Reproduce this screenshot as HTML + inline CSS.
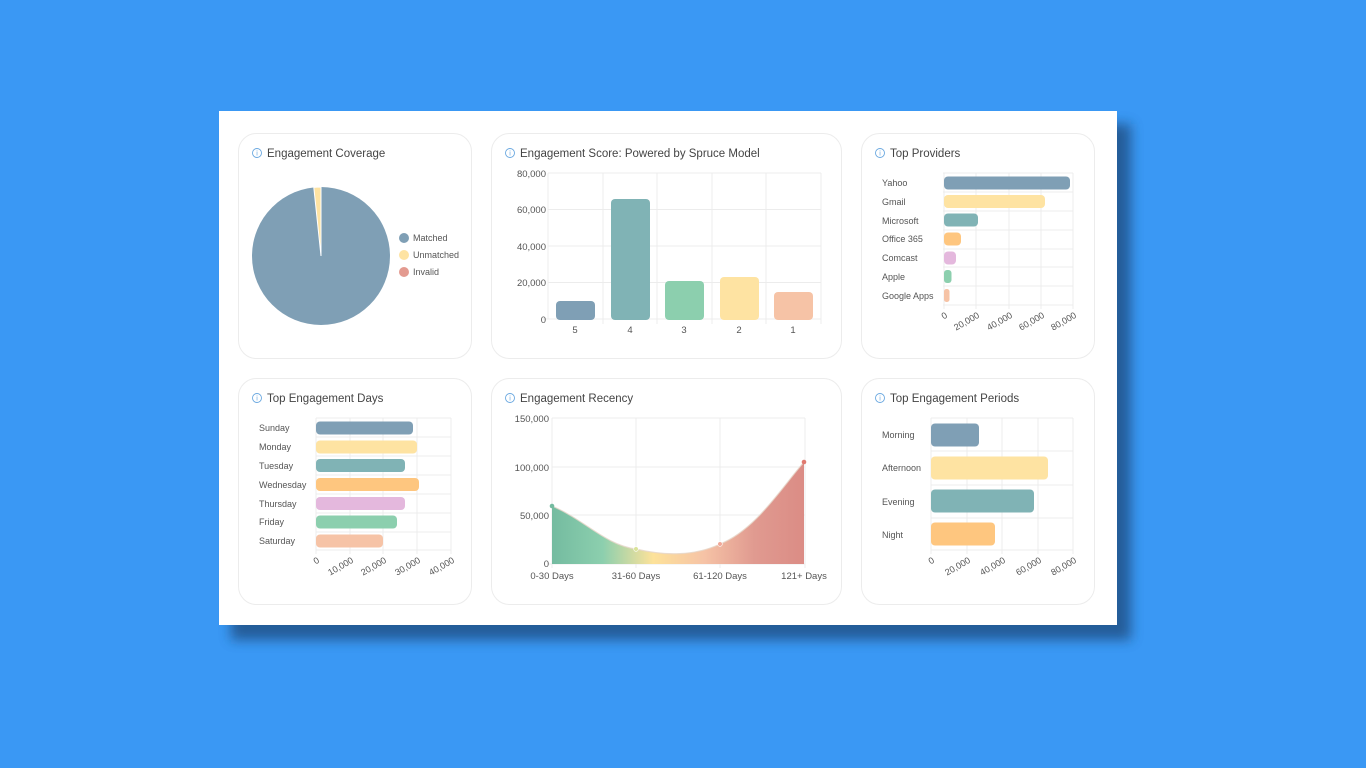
<!DOCTYPE html>
<html><head><meta charset="utf-8"><style>
html,body{margin:0;padding:0;background:#3a98f4;}
svg{display:block;font-family:"Liberation Sans",sans-serif;}
</style></head><body>
<svg width="1366" height="768" viewBox="0 0 1366 768">
<defs>
<filter id="sh" x="-10%" y="-10%" width="130%" height="130%"><feGaussianBlur stdDeviation="6"/></filter>
<linearGradient id="rg" x1="552" x2="805" y1="0" y2="0" gradientUnits="userSpaceOnUse">
<stop offset="0" stop-color="#74bba0"/><stop offset="0.2" stop-color="#8ccfae"/><stop offset="0.4" stop-color="#fde29a"/><stop offset="0.6" stop-color="#f6c3a6"/><stop offset="0.8" stop-color="#e09a90"/><stop offset="1" stop-color="#db8c85"/>
</linearGradient>
</defs>
<rect x="231" y="124" width="900" height="516" fill="#1f4a7a" opacity="0.75" filter="url(#sh)"/>
<rect x="219" y="111" width="898" height="514" fill="#fff"/>
<g fill="#fff" stroke="#ececec" stroke-width="1">
<rect x="238.5" y="133.5" width="233" height="225" rx="18"/>
<rect x="491.5" y="133.5" width="350" height="225" rx="18"/>
<rect x="861.5" y="133.5" width="233" height="225" rx="18"/>
<rect x="238.5" y="378.5" width="233" height="226" rx="18"/>
<rect x="491.5" y="378.5" width="350" height="226" rx="18"/>
<rect x="861.5" y="378.5" width="233" height="226" rx="18"/>
</g>
<g font-size="11.5" fill="#444">
<g fill="none" stroke="#6aa8e0" stroke-width="0.9">
<circle cx="257" cy="153" r="4.5"/><circle cx="510" cy="153" r="4.5"/><circle cx="880" cy="153" r="4.5"/>
<circle cx="257" cy="398" r="4.5"/><circle cx="510" cy="398" r="4.5"/><circle cx="880" cy="398" r="4.5"/>
</g>
<g font-size="7" fill="#6aa8e0" text-anchor="middle"><text x="257" y="155.5">i</text><text x="510" y="155.5">i</text><text x="880" y="155.5">i</text><text x="257" y="400.5">i</text><text x="510" y="400.5">i</text><text x="880" y="400.5">i</text></g>
<text x="267" y="157">Engagement Coverage</text>
<text x="520" y="157">Engagement Score: Powered by Spruce Model</text>
<text x="890" y="157">Top Providers</text>
<text x="267" y="402">Top Engagement Days</text>
<text x="520" y="402">Engagement Recency</text>
<text x="890" y="402">Top Engagement Periods</text>
</g>
<!-- pie -->
<circle cx="321" cy="256" r="69" fill="#7f9fb5"/>
<path d="M321,256 L321,187 A69,69 0 0 0 313.8,187.4 Z" fill="#fee3a2" stroke="#fff" stroke-width="1"/>
<path d="M321,256 L321,187" stroke="#fff" stroke-width="1"/>
<g font-size="9" fill="#555">
<circle cx="404" cy="238" r="5" fill="#7f9fb5"/><text x="413" y="241">Matched</text>
<circle cx="404" cy="255" r="5" fill="#fee3a2"/><text x="413" y="258">Unmatched</text>
<circle cx="404" cy="272" r="5" fill="#e39a90"/><text x="413" y="275">Invalid</text>
</g>
<!-- score -->
<g stroke="#ececec" stroke-width="1">
<line x1="548" y1="173" x2="821" y2="173"/><line x1="548" y1="209.5" x2="821" y2="209.5"/><line x1="548" y1="246" x2="821" y2="246"/><line x1="548" y1="282.5" x2="821" y2="282.5"/>
<line x1="603" y1="173" x2="603" y2="324"/><line x1="657" y1="173" x2="657" y2="324"/><line x1="712" y1="173" x2="712" y2="324"/><line x1="766" y1="173" x2="766" y2="324"/><line x1="821" y1="173" x2="821" y2="324"/>
<line x1="548" y1="173" x2="548" y2="319"/><line x1="543" y1="319" x2="821" y2="319"/>
</g>
<g>
<rect x="556" y="301" width="39" height="19" rx="4" fill="#7f9fb5"/>
<rect x="611" y="199" width="39" height="121" rx="4" fill="#80b3b5"/>
<rect x="665" y="281" width="39" height="39" rx="4" fill="#8ccfae"/>
<rect x="720" y="277" width="39" height="43" rx="4" fill="#fee3a2"/>
<rect x="774" y="292" width="39" height="28" rx="4" fill="#f6c3a6"/>
</g>
<g font-size="9.5" fill="#555" text-anchor="end">
<text x="546" y="177">80,000</text><text x="546" y="213">60,000</text><text x="546" y="250">40,000</text><text x="546" y="286">20,000</text><text x="546" y="323">0</text>
</g>
<g font-size="9.5" fill="#555" text-anchor="middle">
<text x="575" y="333">5</text><text x="630" y="333">4</text><text x="684" y="333">3</text><text x="739" y="333">2</text><text x="793" y="333">1</text>
</g>
<!-- providers -->
<g stroke="#ececec">
<line x1="943" y1="173" x2="1073" y2="173"/><line x1="943" y1="192" x2="1073" y2="192"/><line x1="943" y1="211" x2="1073" y2="211"/><line x1="943" y1="230" x2="1073" y2="230"/><line x1="943" y1="249" x2="1073" y2="249"/><line x1="943" y1="267" x2="1073" y2="267"/><line x1="943" y1="286" x2="1073" y2="286"/><line x1="943" y1="305" x2="1073" y2="305"/>
<line x1="944" y1="173" x2="944" y2="309"/><line x1="976" y1="173" x2="976" y2="309"/><line x1="1009" y1="173" x2="1009" y2="309"/><line x1="1041" y1="173" x2="1041" y2="309"/><line x1="1073" y1="173" x2="1073" y2="309"/>
</g>
<g>
<rect x="944" y="176.5" width="126" height="13" rx="4" fill="#7f9fb5"/>
<rect x="944" y="195" width="101" height="13" rx="4" fill="#fee3a2"/>
<rect x="944" y="213.5" width="34" height="13" rx="4" fill="#80b3b5"/>
<rect x="944" y="232.5" width="17" height="13" rx="4" fill="#fec67f"/>
<rect x="944" y="251.5" width="12" height="13" rx="4" fill="#e4b8dd"/>
<rect x="944" y="270" width="7.5" height="13" rx="3" fill="#8ccfae"/>
<rect x="944" y="289" width="5.5" height="13" rx="2.5" fill="#f6c3a6"/>
</g>
<g font-size="9" fill="#555">
<text x="882" y="186">Yahoo</text><text x="882" y="205">Gmail</text><text x="882" y="224">Microsoft</text><text x="882" y="242">Office 365</text><text x="882" y="261">Comcast</text><text x="882" y="280">Apple</text><text x="882" y="299">Google Apps</text>
</g>
<g font-size="9" fill="#555" text-anchor="end">
<text transform="translate(948,317) rotate(-30)">0</text>
<text transform="translate(980,317) rotate(-30)">20,000</text>
<text transform="translate(1013,317) rotate(-30)">40,000</text>
<text transform="translate(1045,317) rotate(-30)">60,000</text>
<text transform="translate(1077,317) rotate(-30)">80,000</text>
</g>
<!-- days -->
<g stroke="#ececec">
<line x1="316" y1="418" x2="451" y2="418"/><line x1="316" y1="437" x2="451" y2="437"/><line x1="316" y1="456" x2="451" y2="456"/><line x1="316" y1="475" x2="451" y2="475"/><line x1="316" y1="494" x2="451" y2="494"/><line x1="316" y1="513" x2="451" y2="513"/><line x1="316" y1="532" x2="451" y2="532"/><line x1="316" y1="550" x2="451" y2="550"/>
<line x1="316" y1="418" x2="316" y2="554"/><line x1="350" y1="418" x2="350" y2="554"/><line x1="383" y1="418" x2="383" y2="554"/><line x1="417" y1="418" x2="417" y2="554"/><line x1="451" y1="418" x2="451" y2="554"/>
</g>
<g>
<rect x="316" y="421.5" width="97" height="13" rx="4" fill="#7f9fb5"/>
<rect x="316" y="440.5" width="101" height="13" rx="4" fill="#fee3a2"/>
<rect x="316" y="459" width="89" height="13" rx="4" fill="#80b3b5"/>
<rect x="316" y="478" width="103" height="13" rx="4" fill="#fec67f"/>
<rect x="316" y="497" width="89" height="13" rx="4" fill="#e4b8dd"/>
<rect x="316" y="515.5" width="81" height="13" rx="4" fill="#8ccfae"/>
<rect x="316" y="534.5" width="67" height="13" rx="4" fill="#f6c3a6"/>
</g>
<g font-size="9" fill="#555">
<text x="259" y="431">Sunday</text><text x="259" y="450">Monday</text><text x="259" y="469">Tuesday</text><text x="259" y="488">Wednesday</text><text x="259" y="507">Thursday</text><text x="259" y="525">Friday</text><text x="259" y="544">Saturday</text>
</g>
<g font-size="9" fill="#555" text-anchor="end">
<text transform="translate(320,562) rotate(-30)">0</text>
<text transform="translate(354,562) rotate(-30)">10,000</text>
<text transform="translate(387,562) rotate(-30)">20,000</text>
<text transform="translate(421,562) rotate(-30)">30,000</text>
<text transform="translate(455,562) rotate(-30)">40,000</text>
</g>
<!-- recency -->
<g stroke="#ececec">
<line x1="552" y1="418" x2="805" y2="418"/><line x1="552" y1="467" x2="805" y2="467"/><line x1="552" y1="515" x2="805" y2="515"/><line x1="548" y1="564" x2="805" y2="564"/>
<line x1="552" y1="418" x2="552" y2="568"/><line x1="636" y1="418" x2="636" y2="568"/><line x1="720" y1="418" x2="720" y2="568"/><line x1="805" y1="418" x2="805" y2="568"/>
</g>
<path d="M552,506 C585,520 605,545 636,549 C665,556 695,556 720,544 C755,530 780,490 804,462 L804,564 L552,564 Z" fill="url(#rg)"/>
<path d="M552,506 C585,520 605,545 636,549 C665,556 695,556 720,544 C755,530 780,490 804,462" fill="none" stroke="#e6d6c8" stroke-width="1.2" opacity="0.8"/>
<circle cx="552" cy="506" r="2.3" fill="#74bba0"/><circle cx="636" cy="549" r="2.3" fill="#d9e39a" stroke="#fff" stroke-width="0.6"/><circle cx="720" cy="544" r="2.3" fill="#f0a898" stroke="#fff" stroke-width="0.6"/><circle cx="804" cy="462" r="2.3" fill="#e07a70"/>
<g font-size="9.5" fill="#555" text-anchor="end">
<text x="549" y="422">150,000</text><text x="549" y="471">100,000</text><text x="549" y="519">50,000</text><text x="549" y="567">0</text>
</g>
<g font-size="9.5" fill="#555" text-anchor="middle">
<text x="552" y="579">0-30 Days</text><text x="636" y="579">31-60 Days</text><text x="720" y="579">61-120 Days</text><text x="804" y="579">121+ Days</text>
</g>
<!-- periods -->
<g stroke="#ececec">
<line x1="931" y1="418" x2="1073" y2="418"/><line x1="931" y1="451" x2="1073" y2="451"/><line x1="931" y1="485" x2="1073" y2="485"/><line x1="931" y1="518" x2="1073" y2="518"/><line x1="931" y1="550" x2="1073" y2="550"/>
<line x1="931" y1="418" x2="931" y2="554"/><line x1="967" y1="418" x2="967" y2="554"/><line x1="1002" y1="418" x2="1002" y2="554"/><line x1="1038" y1="418" x2="1038" y2="554"/><line x1="1073" y1="418" x2="1073" y2="554"/>
</g>
<g>
<rect x="931" y="423.5" width="48" height="23" rx="4" fill="#7f9fb5"/>
<rect x="931" y="456.5" width="117" height="23" rx="4" fill="#fee3a2"/>
<rect x="931" y="489.5" width="103" height="23" rx="4" fill="#80b3b5"/>
<rect x="931" y="522.5" width="64" height="23" rx="4" fill="#fec67f"/>
</g>
<g font-size="9" fill="#555">
<text x="882" y="438">Morning</text><text x="882" y="471">Afternoon</text><text x="882" y="505">Evening</text><text x="882" y="538">Night</text>
</g>
<g font-size="9" fill="#555" text-anchor="end">
<text transform="translate(935,562) rotate(-30)">0</text>
<text transform="translate(971,562) rotate(-30)">20,000</text>
<text transform="translate(1006,562) rotate(-30)">40,000</text>
<text transform="translate(1042,562) rotate(-30)">60,000</text>
<text transform="translate(1077,562) rotate(-30)">80,000</text>
</g>
</svg>
</body></html>
